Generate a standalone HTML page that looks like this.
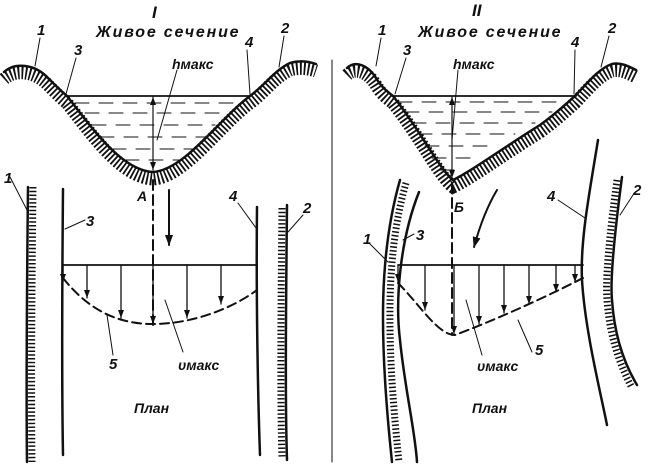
<!DOCTYPE html>
<html><head><meta charset="utf-8"><style>
html,body{margin:0;padding:0;background:#fff;}
svg{display:block;}
text{font-family:"Liberation Sans",sans-serif;font-style:italic;font-weight:bold;fill:#111;}
.h{stroke-linecap:butt;}
</style></head><body>
<svg width="649" height="472" viewBox="0 0 649 472" xmlns="http://www.w3.org/2000/svg">
<defs>
<marker id="ah" markerWidth="11" markerHeight="8" refX="10" refY="4" orient="auto" markerUnits="userSpaceOnUse">
<path d="M0,0 L11,4 L0,8 Z" fill="#111"/></marker>
<marker id="as" markerWidth="8" markerHeight="6" refX="8" refY="3" orient="auto" markerUnits="userSpaceOnUse">
<path d="M0,0 L8,3 L0,6 Z" fill="#111"/></marker>
<marker id="as0" markerWidth="8" markerHeight="6" refX="0" refY="3" orient="auto" markerUnits="userSpaceOnUse">
<path d="M8,0 L0,3 L8,6 Z" fill="#111"/></marker>
</defs>
<g stroke="#111" fill="none" stroke-linecap="round">
<line x1="332" y1="60" x2="332" y2="462" stroke-width="1"/>

<!-- LEFT SECTION -->
<path class="h" d="M4,72 C15,62 35,64 48,78 C58,88 62,92 67,96 C90,125 120,170 153,172 C185,170 220,118 250,96 C265,85 275,70 290,63 C300,60 310,62 316,64" stroke-width="13" stroke-dasharray="1.8 2" transform="translate(0,7)"/>
<path d="M4,72 C15,62 35,64 48,78 C58,88 62,92 67,96 C90,125 120,170 153,172 C185,170 220,118 250,96 C265,85 275,70 290,63 C300,60 310,62 316,64" stroke-width="2.5"/>
<line x1="66" y1="96" x2="250" y2="96" stroke-width="1.8"/>
<g stroke-width="1" stroke-dasharray="14 10">
<line x1="75" y1="103" x2="235" y2="103"/><line x1="85" y1="113" x2="228" y2="113"/>
<line x1="92" y1="125" x2="215" y2="125"/><line x1="100" y1="137" x2="205" y2="137"/>
<line x1="112" y1="149" x2="195" y2="149"/><line x1="125" y1="160" x2="180" y2="160"/>
</g>
<line x1="153" y1="97" x2="153" y2="170" stroke-width="1.2" marker-end="url(#as)" marker-start="url(#as0)"/>
<line x1="177" y1="70" x2="157" y2="140" stroke-width="1"/>
<line x1="40" y1="38" x2="35" y2="66" stroke-width="1"/>
<line x1="76" y1="58" x2="66" y2="94" stroke-width="1"/>
<line x1="247" y1="50" x2="250" y2="94" stroke-width="1"/>
<line x1="284" y1="36" x2="279" y2="67" stroke-width="1"/>

<!-- LEFT PLAN -->
<path d="M28,187 C27,280 26,380 27,462" stroke-width="2.5"/>
<path class="h" d="M33,187 C32,280 31,380 32,462" stroke-width="7" stroke-dasharray="1.5 2.3"/>
<path d="M63,189 C62,300 62,400 63,455" stroke-width="2.5"/>
<path d="M257,207 C256,300 258,400 260,455" stroke-width="2.5"/>
<path d="M287,205 C286,300 285,400 287,460" stroke-width="2.5"/>
<path class="h" d="M282,208 C281,300 280,400 282,458" stroke-width="7" stroke-dasharray="1.5 2.3"/>
<line x1="63" y1="265" x2="257" y2="265" stroke-width="1.8"/>
<path d="M63,278 C90,312 120,324 153,324 C190,324 230,310 257,290" stroke-width="2" stroke-dasharray="9 5"/>
<line x1="153" y1="180" x2="153" y2="325" stroke-width="2" stroke-dasharray="10 5"/>
<line x1="169" y1="190" x2="169" y2="245" stroke-width="2" marker-end="url(#ah)"/>
<g stroke-width="1.3" marker-end="url(#as)">
<line x1="87" y1="265" x2="87" y2="298"/><line x1="121" y1="265" x2="121" y2="318"/>
<line x1="153" y1="265" x2="153" y2="324"/><line x1="187" y1="265" x2="187" y2="318"/>
<line x1="221" y1="265" x2="221" y2="304"/>
<line x1="63" y1="266" x2="63" y2="282"/>
</g>
<line x1="10" y1="177" x2="27" y2="210" stroke-width="1"/>
<line x1="65" y1="229" x2="85" y2="220" stroke-width="1"/>
<line x1="238" y1="203" x2="256" y2="228" stroke-width="1"/>
<line x1="303" y1="215" x2="288" y2="232" stroke-width="1"/>
<line x1="107" y1="315" x2="113" y2="355" stroke-width="1"/>
<line x1="165" y1="300" x2="183" y2="352" stroke-width="1"/>

<!-- RIGHT SECTION -->
<path class="h" d="M347,68 C355,60 368,65 376,78 C382,88 388,92 393,96 C420,130 440,170 453,180 C470,172 500,150 540,125 C558,112 568,102 575,96 C590,80 600,68 612,64 C620,62 628,66 636,70" stroke-width="13" stroke-dasharray="1.8 2" transform="translate(0,7)"/>
<path d="M347,68 C355,60 368,65 376,78 C382,88 388,92 393,96 C420,130 440,170 453,180 C470,172 500,150 540,125 C558,112 568,102 575,96 C590,80 600,68 612,64 C620,62 628,66 636,70" stroke-width="2.5"/>
<line x1="392" y1="96" x2="576" y2="96" stroke-width="1.8"/>
<g stroke-width="1" stroke-dasharray="14 10">
<line x1="398" y1="102" x2="565" y2="102"/><line x1="405" y1="112" x2="552" y2="112"/>
<line x1="412" y1="123" x2="535" y2="123"/><line x1="418" y1="134" x2="515" y2="134"/>
<line x1="425" y1="146" x2="495" y2="146"/><line x1="432" y1="158" x2="475" y2="158"/>
<line x1="440" y1="170" x2="462" y2="170"/>
</g>
<line x1="452" y1="97" x2="452" y2="178" stroke-width="1.2" marker-end="url(#as)" marker-start="url(#as0)"/>
<line x1="458" y1="70" x2="452" y2="140" stroke-width="1"/>
<line x1="381" y1="38" x2="376" y2="66" stroke-width="1"/>
<line x1="406" y1="58" x2="395" y2="94" stroke-width="1"/>
<line x1="575" y1="50" x2="574" y2="94" stroke-width="1"/>
<line x1="609" y1="36" x2="601" y2="67" stroke-width="1"/>

<!-- RIGHT PLAN -->
<path d="M400,180 C380,250 378,330 392,462" stroke-width="2.5"/>
<path class="h" d="M406,183 C387,250 385,330 399,462" stroke-width="7" stroke-dasharray="1.5 2.3"/>
<path d="M419,192 C400,240 395,300 400,340 C405,390 415,430 417,462" stroke-width="2.5"/>
<path d="M598,140 C590,190 580,240 582,280 C585,330 600,390 607,425" stroke-width="2.5"/>
<path d="M622,177 C615,230 610,280 612,300 C614,330 622,360 637,385" stroke-width="2.5"/>
<path class="h" d="M617,180 C610,230 605,280 607,300 C609,330 617,360 632,388" stroke-width="7" stroke-dasharray="1.5 2.3"/>
<line x1="398" y1="265" x2="583" y2="265" stroke-width="1.8"/>
<path d="M398,283 C420,305 438,335 455,335 C490,322 540,300 583,278" stroke-width="2" stroke-dasharray="9 5"/>
<line x1="452" y1="183" x2="452" y2="335" stroke-width="2" stroke-dasharray="10 5"/>
<path d="M497,190 C488,205 480,225 474,247" stroke-width="2" marker-end="url(#ah)"/>
<g stroke-width="1.3" marker-end="url(#as)">
<line x1="425" y1="265" x2="425" y2="310"/><line x1="454" y1="265" x2="454" y2="334"/>
<line x1="479" y1="265" x2="479" y2="324"/><line x1="504" y1="265" x2="504" y2="313"/>
<line x1="529" y1="265" x2="529" y2="304"/><line x1="556" y1="265" x2="556" y2="292"/>
<line x1="575" y1="265" x2="575" y2="282"/>
<line x1="398" y1="266" x2="398" y2="282"/>
</g>
<line x1="370" y1="244" x2="388" y2="262" stroke-width="1"/>
<line x1="403" y1="240" x2="414" y2="234" stroke-width="1"/>
<line x1="558" y1="200" x2="585" y2="218" stroke-width="1"/>
<line x1="633" y1="195" x2="620" y2="215" stroke-width="1"/>
<line x1="518" y1="320" x2="532" y2="352" stroke-width="1"/>
<line x1="466" y1="300" x2="482" y2="355" stroke-width="1"/>
</g>

<text x="152" y="18" font-family="Liberation Serif" font-size="17">I</text>
<text x="96" y="37" font-size="16" letter-spacing="1.8">Живое сечение</text>
<text x="37" y="35" font-size="15">1</text>
<text x="74" y="55" font-size="15">3</text>
<text x="245" y="47" font-size="15">4</text>
<text x="281" y="33" font-size="15">2</text>
<text x="172" y="69" font-size="14">hмакс</text>
<text x="137" y="201" font-size="14" font-weight="normal">A</text>
<text x="4" y="183" font-size="15">1</text>
<text x="86" y="226" font-size="15">3</text>
<text x="229" y="201" font-size="15">4</text>
<text x="303" y="213" font-size="15">2</text>
<text x="109" y="369" font-size="15">5</text>
<text x="178" y="370" font-size="14">υмакс</text>
<text x="134" y="413" font-size="14" font-weight="normal">План</text>

<text x="472" y="16" font-family="Liberation Serif" font-size="17">II</text>
<text x="418" y="37" font-size="16" letter-spacing="1.8">Живое сечение</text>
<text x="378" y="35" font-size="15">1</text>
<text x="403" y="55" font-size="15">3</text>
<text x="571" y="47" font-size="15">4</text>
<text x="608" y="33" font-size="15">2</text>
<text x="453" y="69" font-size="14">hмакс</text>
<text x="454" y="212" font-size="14" font-weight="normal">Б</text>
<text x="363" y="244" font-size="15">1</text>
<text x="416" y="240" font-size="15">3</text>
<text x="547" y="201" font-size="15">4</text>
<text x="633" y="195" font-size="15">2</text>
<text x="535" y="355" font-size="15">5</text>
<text x="477" y="371" font-size="14">υмакс</text>
<text x="472" y="413" font-size="14" font-weight="normal">План</text>
</svg>
</body></html>
